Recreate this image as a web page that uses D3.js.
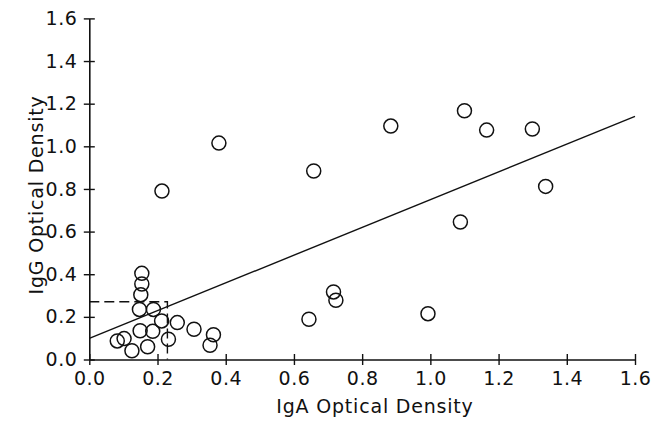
<!DOCTYPE html>
<html>
<head>
<meta charset="utf-8">
<script src="https://cdn.jsdelivr.net/npm/d3@7"></script>
<style>
  body { margin: 0; background: #fff; }
  text { font-family: "DejaVu Sans", sans-serif; fill: #111; }
</style>
</head>
<body>
<div id="chart"></div>
<script>
// Données
const iga = [0.884, 1.100, 1.165, 1.299, 0.658, 1.338, 1.088, 0.716, 0.723, 0.644, 0.993,
  0.380, 0.213,
  0.154, 0.154, 0.151, 0.147, 0.188, 0.212, 0.258, 0.307, 0.364, 0.354,
  0.149, 0.186, 0.232, 0.082, 0.102, 0.125, 0.171];
const igg = [1.095, 1.167, 1.076, 1.081, 0.884, 0.812, 0.645, 0.317, 0.278, 0.189, 0.215,
  1.015, 0.790,
  0.404, 0.354, 0.304, 0.235, 0.235, 0.181, 0.173, 0.142, 0.116, 0.067,
  0.135, 0.132, 0.095, 0.087, 0.098, 0.041, 0.060];

// droite de régression
const fitX = [0, 1.6];
const fitY = [0.099, 1.14];

// seuils (pointillés)
const cutX = [0, 0.229, 0.229];
const cutY = [0.271, 0.271, 0];

const ticks = [0, 0.2, 0.4, 0.6, 0.8, 1.0, 1.2, 1.4, 1.6];

const W = 651, H = 423;

const svg = d3.select('#chart')
  .append('svg')
  .attr('width', W)
  .attr('height', H);

const x = d3.scaleLinear().domain([0, 1.6]).range([89.3, 635]);
const y = d3.scaleLinear().domain([0, 1.6]).range([359.5, 18.4]);

// axes
const xAxis = svg.append('g')
  .attr('transform', 'translate(0,' + y(0) + ')')
  .call(d3.axisBottom(x).tickValues(ticks).tickFormat(d3.format('.1f')).tickSizeOuter(0));

xAxis.selectAll('.tick line').attr('y1', -5.5).attr('y2', 5.5);
xAxis.selectAll('.tick text').attr('y', 12).style('font-size', '19px').style('letter-spacing', '0.5px');

const yAxis = svg.append('g')
  .attr('transform', 'translate(' + x(0) + ',0)')
  .call(d3.axisLeft(y).tickValues(ticks).tickFormat(d3.format('.1f')).tickSizeOuter(0));

yAxis.selectAll('.tick line').attr('x1', -5.5).attr('x2', 5.5);
yAxis.selectAll('.tick text').attr('x', -12).style('font-size', '19px').style('letter-spacing', '0.5px');

svg.selectAll('.domain').attr('stroke', '#111').attr('stroke-width', 1.6);
svg.selectAll('.tick line').attr('stroke', '#111').attr('stroke-width', 1.4);

// régression
svg.append('line')
  .attr('x1', x(fitX[0])).attr('y1', y(fitY[0]))
  .attr('x2', x(fitX[1])).attr('y2', y(fitY[1]))
  .attr('stroke', '#111')
  .attr('stroke-width', 1.4);

// seuils
const line = d3.line().x((d, i) => x(cutX[i])).y((d, i) => y(cutY[i]));
svg.append('path')
  .attr('d', line(cutX))
  .attr('fill', 'none')
  .attr('stroke', '#111')
  .attr('stroke-width', 1.4)
  .attr('stroke-dasharray', '10,5');

// points
svg.append('g')
  .selectAll('circle')
  .data(iga)
  .join('circle')
  .attr('cx', d => x(d))
  .attr('cy', (d, i) => y(igg[i]))
  .attr('r', 7)
  .attr('fill', 'none')
  .attr('stroke', '#111')
  .attr('stroke-width', 1.5);

// titres
svg.append('text')
  .attr('x', 375)
  .attr('y', 413)
  .attr('text-anchor', 'middle')
  .style('font-size', '19px')
  .style('letter-spacing', '0.8px')
  .text('IgA Optical Density');

svg.append('text')
  .attr('transform', 'translate(43,195) rotate(-90)')
  .attr('text-anchor', 'middle')
  .style('font-size', '19px')
  .style('letter-spacing', '0.8px')
  .text('IgG Optical Density');
</script>
</body>
</html>
